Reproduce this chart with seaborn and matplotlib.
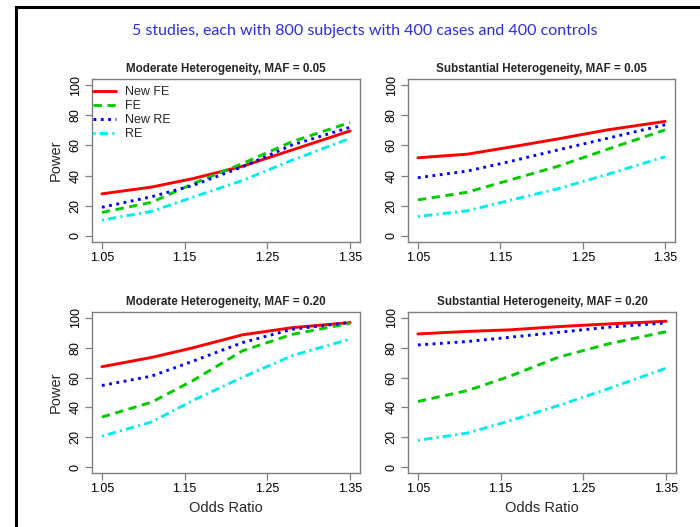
import matplotlib
matplotlib.use("Agg")
import matplotlib.pyplot as plt
import seaborn as sns
from matplotlib.lines import Line2D

# odds ratios where power was evaluated
odds_ratio = [1.05, 1.11, 1.16, 1.22, 1.28, 1.35]

# Moderate heterogeneity, MAF = 0.05
mod05_new_fe = [27.9, 32.4, 38.0, 46.2, 57.0, 69.6]
mod05_fe = [15.6, 22.3, 34.6, 48.0, 62.5, 75.2]
mod05_new_re = [19.0, 26.0, 33.5, 45.8, 60.3, 72.0]
mod05_re = [10.5, 16.3, 25.7, 36.8, 50.2, 64.7]

# Substantial heterogeneity, MAF = 0.05
sub05_new_fe = [51.8, 54.2, 58.7, 64.3, 70.3, 75.9]
sub05_fe = [23.9, 29.0, 36.8, 46.2, 57.4, 70.3]
sub05_new_re = [38.6, 43.0, 49.1, 57.0, 64.7, 73.7]
sub05_re = [12.9, 16.7, 23.4, 31.3, 40.8, 52.5]

# Moderate heterogeneity, MAF = 0.20
mod20_new_fe = [67.3, 73.5, 80.0, 88.7, 93.5, 96.9]
mod20_fe = [33.5, 43.5, 58.0, 78.0, 89.0, 96.4]
mod20_new_re = [54.7, 61.0, 71.0, 83.5, 92.4, 97.0]
mod20_re = [20.7, 30.2, 44.7, 60.2, 74.7, 85.8]

# Substantial heterogeneity, MAF = 0.20
sub20_new_fe = [89.3, 91.0, 92.0, 94.2, 96.0, 97.8]
sub20_fe = [44.0, 51.3, 60.7, 73.7, 82.6, 90.8]
sub20_new_re = [81.9, 84.2, 87.0, 90.4, 93.8, 96.7]
sub20_re = [17.9, 22.8, 30.8, 41.3, 52.5, 66.3]

method_names = ["New FE", "FE", "New RE", "RE"]
panel_titles = [
    "Moderate Heterogeneity, MAF = 0.05",
    "Substantial Heterogeneity, MAF = 0.05",
    "Moderate Heterogeneity, MAF = 0.20",
    "Substantial Heterogeneity, MAF = 0.20",
]
panel_data = [
    [mod05_new_fe, mod05_fe, mod05_new_re, mod05_re],
    [sub05_new_fe, sub05_fe, sub05_new_re, sub05_re],
    [mod20_new_fe, mod20_fe, mod20_new_re, mod20_re],
    [sub20_new_fe, sub20_fe, sub20_new_re, sub20_re],
]
x_ticks = [1.05, 1.15, 1.25, 1.35]
y_ticks = [0, 20, 40, 60, 80, 100]

sns.set_style("white")
plt.rcParams["font.family"] = ["Liberation Sans", "DejaVu Sans"]
plt.rcParams["lines.scale_dashes"] = False

line_styles = [
    dict(color="#ff0000", linestyle="-"),
    dict(color="#00cd00", linestyle=(0, (6.0, 4.0))),
    dict(color="#0000ff", linestyle=(0, (2.0, 3.3))),
    dict(color="#00eeee", linestyle=(0, (1.5, 3.0, 6.0, 3.0))),
]

W, H = 700, 527
fig = plt.figure(figsize=(7, 5.27), dpi=100)
fig.patch.set_facecolor("white")

# panel boxes in pixels: left, top, right, bottom
boxes = [(92, 79, 360, 242), (408, 79, 675, 242),
         (92, 312, 360, 473), (408, 312, 676, 473)]

spine_gray = "#7f7f7f"
for i, (l, t, r, b) in enumerate(boxes):
    ax = fig.add_axes([l / W, 1 - b / H, (r - l) / W, (b - t) / H])
    for j, series in enumerate(panel_data[i]):
        sns.lineplot(x=odds_ratio, y=series, ax=ax, lw=2.1,
                     label=method_names[j] if i == 0 else None,
                     dash_capstyle="butt", **line_styles[j])
    ax.set_xlim(1.038, 1.362)
    ax.set_ylim(-4, 104)
    ax.set_xticks(x_ticks)
    ax.set_xticklabels(["1.05", "1.15", "1.25", "1.35"])
    ax.set_yticks(y_ticks)
    ax.set_yticklabels([str(v) for v in y_ticks], rotation=90, va="center")
    ax.tick_params(axis="both", direction="out", length=5, width=0.9,
                   color=spine_gray, labelsize=9, labelcolor="black", pad=2.5)
    ax.tick_params(axis="x", bottom=True)
    ax.tick_params(axis="y", left=True)
    for s in ax.spines.values():
        s.set_color(spine_gray)
        s.set_linewidth(1.0)
    ax.set_title(panel_titles[i], fontsize=8.4, fontweight="bold", pad=5)
    if i % 2 == 0:
        ax.set_ylabel("Power", fontsize=10.5)
        ax.yaxis.set_label_coords(-29 / (r - l), 0.5)
    if i >= 2:
        ax.set_xlabel("Odds Ratio", fontsize=10.5)
        ax.xaxis.set_label_coords(0.5, -28 / (b - t))
    if i == 0:
        ax.legend(loc="upper left", bbox_to_anchor=(0.004, 0.955),
                  frameon=False, fontsize=9, handlelength=1.85,
                  handletextpad=0.7, labelspacing=0.16, borderpad=0,
                  borderaxespad=0)
    elif ax.get_legend() is not None:
        ax.get_legend().remove()

fig.text(365 / W, 1 - 31 / H,
         "5 studies, each with 800 subjects with 400 cases and 400 controls",
         ha="center", va="center", color="#2d2de0", fontsize=11.5,
         family=["Lato", "DejaVu Sans"])

# slide frame at left and top
fig.add_artist(Line2D([16 / W, 16 / W], [0, 1 - 7 / H], transform=fig.transFigure,
                      color="black", lw=2.2))
fig.add_artist(Line2D([16 / W, 1], [1 - 7 / H, 1 - 7 / H], transform=fig.transFigure,
                      color="black", lw=2.2, solid_capstyle="projecting"))

fig.savefig("out.png", dpi=100)
